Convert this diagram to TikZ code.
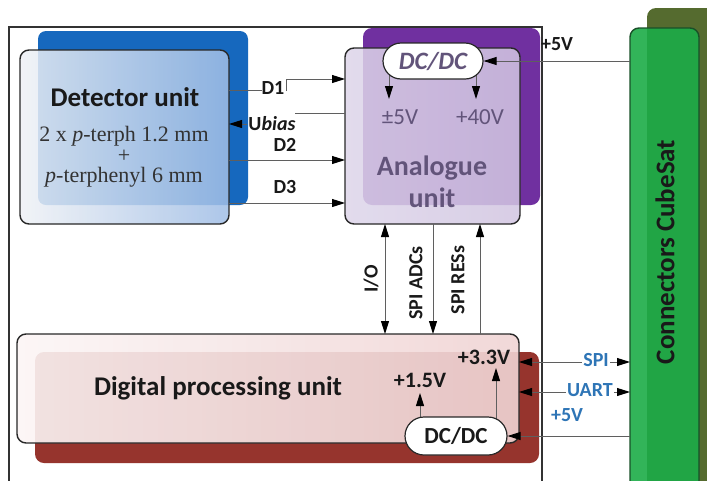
\documentclass[tikz,border=0pt]{standalone}
\usepackage{fontspec}
\setmainfont{Carlito}
\newfontfamily\timesfont{Liberation Serif}
\usetikzlibrary{arrows.meta,shapes.misc}
\definecolor{detback}{RGB}{22,104,190}
\definecolor{detL}{RGB}{240,242,246}
\definecolor{detR}{RGB}{160,190,230}
\definecolor{anaback}{RGB}{112,48,160}
\definecolor{anaL}{RGB}{222,214,234}
\definecolor{anaR}{RGB}{210,198,226}
\definecolor{anatext}{RGB}{98,84,122}
\definecolor{digback}{RGB}{150,52,45}
\definecolor{digL}{RGB}{252,246,246}
\definecolor{digR}{RGB}{240,212,212}
\definecolor{olivec}{RGB}{85,107,47}
\definecolor{greenc}{RGB}{28,172,72}
\definecolor{greendark}{RGB}{25,80,40}
\definecolor{boxc}{RGB}{40,40,40}
\definecolor{framec}{RGB}{50,50,50}
\definecolor{sigc}{RGB}{95,95,95}
\definecolor{textdark}{RGB}{25,25,25}
\definecolor{bluelbl}{RGB}{46,117,182}
\begin{document}
\begin{tikzpicture}[x=1pt,y=-1pt,
  sig/.style={draw=sigc, line width=0.9pt},
  tipE/.style={-{Triangle[length=13pt,width=8pt,color=black]}},
  tipB/.style={{Triangle[length=13pt,width=8pt,color=black]}-{Triangle[length=13pt,width=8pt,color=black]}},
  box/.style={draw=boxc, line width=1.4pt, rounded corners=9pt, inner sep=0pt, outer sep=0pt, anchor=north west, fill opacity=0.86, text opacity=1},
  pill/.style={rounded rectangle, draw=boxc, line width=1.2pt, fill=white, inner sep=0pt},
  lbl/.style={font=\bfseries\fontsize{20}{22}\selectfont, text=textdark, inner sep=1pt},
  blbl/.style={font=\bfseries\fontsize{20}{22}\selectfont, text=bluelbl, inner sep=1pt, fill=white},
  vlbl/.style={font=\bfseries\fontsize{20}{22}\selectfont, text=textdark, rotate=90, inner sep=1pt},
  vlt/.style={font=\bfseries\fontsize{22}{24}\selectfont, text=textdark, inner sep=1pt},
]
\useasboundingbox (0,0) rectangle (707,480);
\clip (0,0) rectangle (707,480);
\fill[white] (0,0) rectangle (707,480);

% outer frame
\draw[draw=framec, line width=1.4pt] (9,495) -- (9,27) -- (542,27) -- (542,495);

% connectors CubeSat
\fill[olivec, rounded corners=9pt] (647,8) rectangle (725,500);
\node[box, draw=greendark, fill=greenc, fill opacity=0.9, minimum width=69pt, minimum height=470pt] (con) at (630,28) {};
\node[rotate=90, font=\bfseries\fontsize{27}{30}\selectfont, text=textdark] (contxt) at (665,252) {Connectors CubeSat};

% detector unit
\fill[detback, rounded corners=8pt] (38,31) rectangle (248,205);
\node[box, left color=detL, right color=detR, minimum width=209pt, minimum height=174pt] (det) at (20,50) {};
\node[font=\bfseries\fontsize{27}{32}\selectfont, text=textdark] (dettitle) at (125,97) {Detector unit};
\node[font=\timesfont\fontsize{22}{20.5}\selectfont, text=black!80, align=center] (dettxt) at (124,157) {2 x \textit{p}-terph 1.2 mm\\+\\\textit{p}-terphenyl 6 mm};

% analogue unit
\fill[anaback, rounded corners=9pt] (363,28) rectangle (540,205);
\node[box, left color=anaL, right color=anaR, minimum width=175pt, minimum height=176pt] (ana) at (345,48) {};
\node[font=\bfseries\fontsize{28}{32}\selectfont, text=anatext, align=center] (anatxt) at (432,182) {Analogue\\unit};

% digital processing unit
\fill[digback, rounded corners=9pt] (35,352) rectangle (539,463);
\node[box, left color=digL, right color=digR, fill opacity=0.9, minimum width=502pt, minimum height=109pt] (dig) at (17,334) {};
\node[font=\bfseries\fontsize{27}{32}\selectfont, text=textdark] (digtxt) at (218,388) {Digital processing unit};

% top DC/DC and its outputs
\coordinate (dcAc) at (433,61);
\coordinate (a5) at (389,0);
\coordinate (a40) at (476,0);
\draw[sig, tipE] (dcAc -| a5) -- (389,99);
\draw[sig, tipE] (dcAc -| a40) -- (476,99);
\node[pill, minimum width=100pt, minimum height=36pt, font=\bfseries\itshape\fontsize{25}{28}\selectfont, text=anatext] (dcA) at (dcAc) {DC/DC};
\node[font=\fontsize{23}{26}\selectfont, text=anatext] (pm5) at (400,117) {±5V};
\node[font=\fontsize{23}{26}\selectfont, text=anatext] (p40) at (480,117) {+40V};

% +5V into top DC/DC
\draw[sig, tipE] (con.west |- dcA.east) -- (dcA.east);
\node[lbl] (p5a) at (557,44) {+5V};

% detector <-> analogue
\draw[sig] (det.east |- 0,90) -- (262,90);
\node[lbl] (d1) at (273,88) {D1};
\draw[sig, tipE] (286,91) -- (286,79) -- (ana.west |- 0,79);
\draw[sig] (ana.west |- 0,113) -- (295,113);
\node[lbl] (ub) at (272,124) {U\textit{bias}};
\draw[sig, tipE] (ub.west) -- (det.east |- ub.west);
\draw[sig, tipE] (det.east |- 0,160) -- (ana.west |- 0,160);
\node[lbl] (d2) at (285,145) {D2};
\draw[sig, tipE] (det.east |- 0,203) -- (ana.west |- 0,203);
\node[lbl] (d3) at (285,187) {D3};

% analogue <-> digital
\draw[sig, tipB] (ana.south -| 385,0) -- (dig.north -| 385,0);
\node[vlbl] (io) at (371,279) {I/O};
\draw[sig, tipE] (ana.south -| 433,0) -- (dig.north -| 433,0);
\node[vlbl] (spiadc) at (416,283) {SPI ADCs};
\draw[sig, tipE] (dig.north -| 480,0) -- (ana.south -| 480,0);
\node[vlbl] (spires) at (458,280) {SPI RESs};

% digital internals
\coordinate (dcBc) at (456,436);
\node[vlt] (p33) at (484,357) {+3.3V};
\node[vlt] (p15) at (420,380) {+1.5V};
\draw[sig, tipE] (dcBc -| 420,0) -- (420,393);
\draw[sig, tipE] (dcBc -| 496,0) -- (496,368);
\node[pill, minimum width=102pt, minimum height=38pt, font=\bfseries\fontsize{23}{24}\selectfont, text=textdark] (dcB) at (dcBc) {DC/DC};

% digital <-> connectors
\draw[sig, tipE] (con.west |- dcB.east) -- (dcB.east);
\node[blbl, fill=none] (p5b) at (567,415) {+5V};
\draw[sig, tipB] (dig.east |- 0,362) -- (con.west |- 0,362);
\node[blbl] (spi) at (596,360) {SPI};
\draw[sig, tipB] (dig.east |- 0,392) -- (con.west |- 0,392);
\node[blbl] (uart) at (590,390) {UART};
\end{tikzpicture}
\end{document}
